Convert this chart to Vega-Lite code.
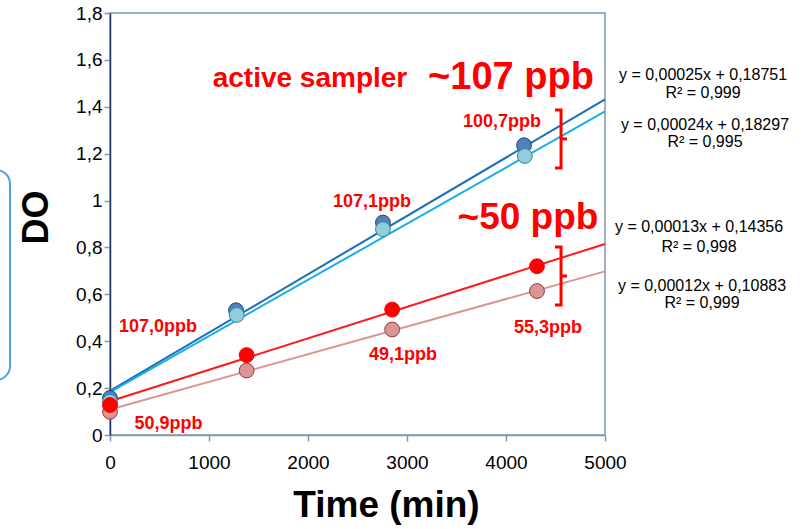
{
  "$schema": "https://vega.github.io/schema/vega-lite/v6.json",
  "width": 495,
  "height": 422,
  "autosize": {"type": "none"},
  "padding": {"left": 110, "top": 13, "right": 207, "bottom": 94},
  "background": "white",
  "config": {
    "view": {"stroke": "#8497b0", "strokeWidth": 1.5},
    "font": "Liberation Sans"
  },
  "datasets": {
    "points": [
      {"series": "A", "t": 0, "do": 0.158},
      {"series": "A", "t": 1273, "do": 0.532},
      {"series": "A", "t": 2757, "do": 0.906},
      {"series": "A", "t": 4182, "do": 1.236},
      {"series": "B", "t": 0, "do": 0.142},
      {"series": "B", "t": 1280, "do": 0.512},
      {"series": "B", "t": 2757, "do": 0.878},
      {"series": "B", "t": 4190, "do": 1.19},
      {"series": "D", "t": 0, "do": 0.099},
      {"series": "D", "t": 1380, "do": 0.275},
      {"series": "D", "t": 2850, "do": 0.45},
      {"series": "D", "t": 4313, "do": 0.614},
      {"series": "C", "t": 0, "do": 0.128},
      {"series": "C", "t": 1380, "do": 0.341},
      {"series": "C", "t": 2850, "do": 0.535},
      {"series": "C", "t": 4313, "do": 0.72}
    ],
    "fits": [
      {"series": "A", "t": 0, "do": 0.188},
      {"series": "A", "t": 5000, "do": 1.432},
      {"series": "B", "t": 0, "do": 0.183},
      {"series": "B", "t": 5000, "do": 1.38},
      {"series": "C", "t": 0, "do": 0.144},
      {"series": "C", "t": 5000, "do": 0.815},
      {"series": "D", "t": 0, "do": 0.109},
      {"series": "D", "t": 5000, "do": 0.698}
    ],
    "brackets": [
      {"id": "u1", "ord": 1, "t": 4495, "do": 1.3865},
      {"id": "u1", "ord": 2, "t": 4556, "do": 1.3865},
      {"id": "u1", "ord": 3, "t": 4556, "do": 1.139},
      {"id": "u1", "ord": 4, "t": 4495, "do": 1.139},
      {"id": "u2", "ord": 1, "t": 4556, "do": 1.263},
      {"id": "u2", "ord": 2, "t": 4616, "do": 1.263},
      {"id": "l1", "ord": 1, "t": 4495, "do": 0.802},
      {"id": "l1", "ord": 2, "t": 4556, "do": 0.802},
      {"id": "l1", "ord": 3, "t": 4556, "do": 0.5546},
      {"id": "l1", "ord": 4, "t": 4495, "do": 0.5546},
      {"id": "l2", "ord": 1, "t": 4556, "do": 0.678},
      {"id": "l2", "ord": 2, "t": 4616, "do": 0.678}
    ],
    "bigLabels": [
      {"label": "active sampler", "t": 2020, "do": 1.52, "size": 28},
      {"label": "~107 ppb", "t": 4050, "do": 1.523, "size": 38},
      {"label": "~50 ppb", "t": 4222, "do": 0.926, "size": 37}
    ],
    "smallLabels": [
      {"label": "100,7ppb", "t": 3960, "do": 1.337},
      {"label": "107,1ppb", "t": 2646, "do": 0.995},
      {"label": "107,0ppb", "t": 485, "do": 0.462},
      {"label": "49,1ppb", "t": 2960, "do": 0.341},
      {"label": "55,3ppb", "t": 4424, "do": 0.456},
      {"label": "50,9ppb", "t": 591, "do": 0.047}
    ],
    "equations": [
      {"label": "y = 0,00025x + 0,18751", "t": 5990, "do": 1.536},
      {"label": "R² = 0,999", "t": 5990, "do": 1.459},
      {"label": "y = 0,00024x + 0,18297", "t": 6010, "do": 1.323},
      {"label": "R² = 0,995", "t": 6010, "do": 1.251},
      {"label": "y = 0,00013x + 0,14356", "t": 5950, "do": 0.886},
      {"label": "R² = 0,998", "t": 5950, "do": 0.803},
      {"label": "y = 0,00012x + 0,10883", "t": 5980, "do": 0.636},
      {"label": "R² = 0,999", "t": 5980, "do": 0.562}
    ],
    "box": [
      {"t0": -3000, "t1": -1010, "d0": 1.1306, "d1": 0.2346}
    ],
    "top": [{"do": 1.8}]
  },
  "encoding": {
    "x": {
      "field": "t", "type": "quantitative",
      "scale": {"domain": [0, 5000], "nice": false, "zero": false},
      "axis": {
        "title": "Time (min)",
        "values": [0, 1000, 2000, 3000, 4000, 5000],
        "format": "d",
        "labelFlush": false,
        "labelOverlap": false,
        "grid": false,
        "domainColor": "#8497b0", "domainWidth": 1.5,
        "tickColor": "#8497b0", "tickSize": 6, "tickWidth": 1.5,
        "labelFont": "Liberation Sans", "labelFontSize": 19, "labelColor": "#000000",
        "labelPadding": 12,
        "titleFont": "Liberation Sans", "titleFontSize": 37, "titleFontWeight": "bold", "titleColor": "#000000",
        "titleX": 276, "titleY": 70, "titleBaseline": "middle", "titleAlign": "center"
      }
    },
    "y": {
      "field": "do", "type": "quantitative",
      "scale": {"domain": [0, 1.8], "nice": false},
      "axis": {
        "title": "DO",
        "values": [0, 0.2, 0.4, 0.6, 0.8, 1, 1.2, 1.4, 1.6, 1.8],
        "labelExpr": "replace(format(datum.value, '.1~f'), '.', ',')",
        "grid": false,
        "domainColor": "#1f3864", "domainWidth": 1.5,
        "tickColor": "#8497b0", "tickSize": 6, "tickWidth": 1.5,
        "labelFont": "Liberation Sans", "labelFontSize": 19, "labelColor": "#000000",
        "labelPadding": 2,
        "titleFont": "Liberation Sans", "titleFontSize": 36, "titleFontWeight": "bold", "titleColor": "#000000",
        "titleX": -74, "titleY": 204, "titleAngle": -90, "titleBaseline": "middle", "titleAlign": "center"
      }
    }
  },
  "layer": [
    {
      "data": {"name": "box"},
      "mark": {"type": "rect", "fill": null, "filled": false, "stroke": "#4f9ee8", "strokeWidth": 2, "cornerRadius": 14, "clip": false},
      "encoding": {
        "x": {"field": "t0", "type": "quantitative"},
        "x2": {"field": "t1"},
        "y": {"field": "d0", "type": "quantitative"},
        "y2": {"field": "d1"}
      }
    },
    {
      "data": {"name": "top"},
      "mark": {"type": "rule", "color": "#1f3864", "strokeWidth": 1.5},
      "encoding": {
        "y": {"field": "do", "type": "quantitative"}
      }
    },
    {
      "data": {"name": "fits"},
      "mark": {"type": "line", "strokeWidth": 2},
      "encoding": {
        "detail": {"field": "series"},
        "color": {
          "field": "series", "type": "nominal", "legend": null,
          "scale": {"domain": ["A", "B", "C", "D"], "range": ["#1a6db8", "#17aee8", "#ff1a1a", "#d99694"]}
        }
      }
    },
    {
      "data": {"name": "points"},
      "mark": {"type": "point", "shape": "circle", "filled": true, "size": 220, "opacity": 1, "strokeWidth": 1, "clip": false},
      "encoding": {
        "fill": {
          "field": "series", "type": "nominal", "legend": null,
          "scale": {"domain": ["A", "B", "C", "D"], "range": ["#4f81bd", "#92cddc", "#ff0000", "#d99694"]}
        },
        "stroke": {
          "field": "series", "type": "nominal", "legend": null,
          "scale": {"domain": ["A", "B", "C", "D"], "range": ["#1f497d", "#31859c", "#ff0000", "#953735"]}
        }
      }
    },
    {
      "data": {"name": "brackets"},
      "mark": {"type": "line", "color": "#ff0000", "strokeWidth": 3, "clip": false},
      "encoding": {
        "detail": {"field": "id"},
        "order": {"field": "ord", "type": "quantitative"}
      }
    },
    {
      "data": {"name": "bigLabels"},
      "mark": {"type": "text", "color": "#ff0000", "fontWeight": "bold", "font": "Liberation Sans", "baseline": "middle", "align": "center", "clip": false},
      "encoding": {
        "text": {"field": "label"},
        "size": {"field": "size", "type": "quantitative", "scale": null}
      }
    },
    {
      "data": {"name": "smallLabels"},
      "mark": {"type": "text", "color": "#ff0000", "fontWeight": "bold", "font": "Liberation Sans", "fontSize": 18, "baseline": "middle", "align": "center", "clip": false},
      "encoding": {
        "text": {"field": "label"}
      }
    },
    {
      "data": {"name": "equations"},
      "mark": {"type": "text", "color": "#000000", "font": "Liberation Sans", "fontSize": 16, "baseline": "middle", "align": "center", "clip": false},
      "encoding": {
        "text": {"field": "label"}
      }
    }
  ]
}
